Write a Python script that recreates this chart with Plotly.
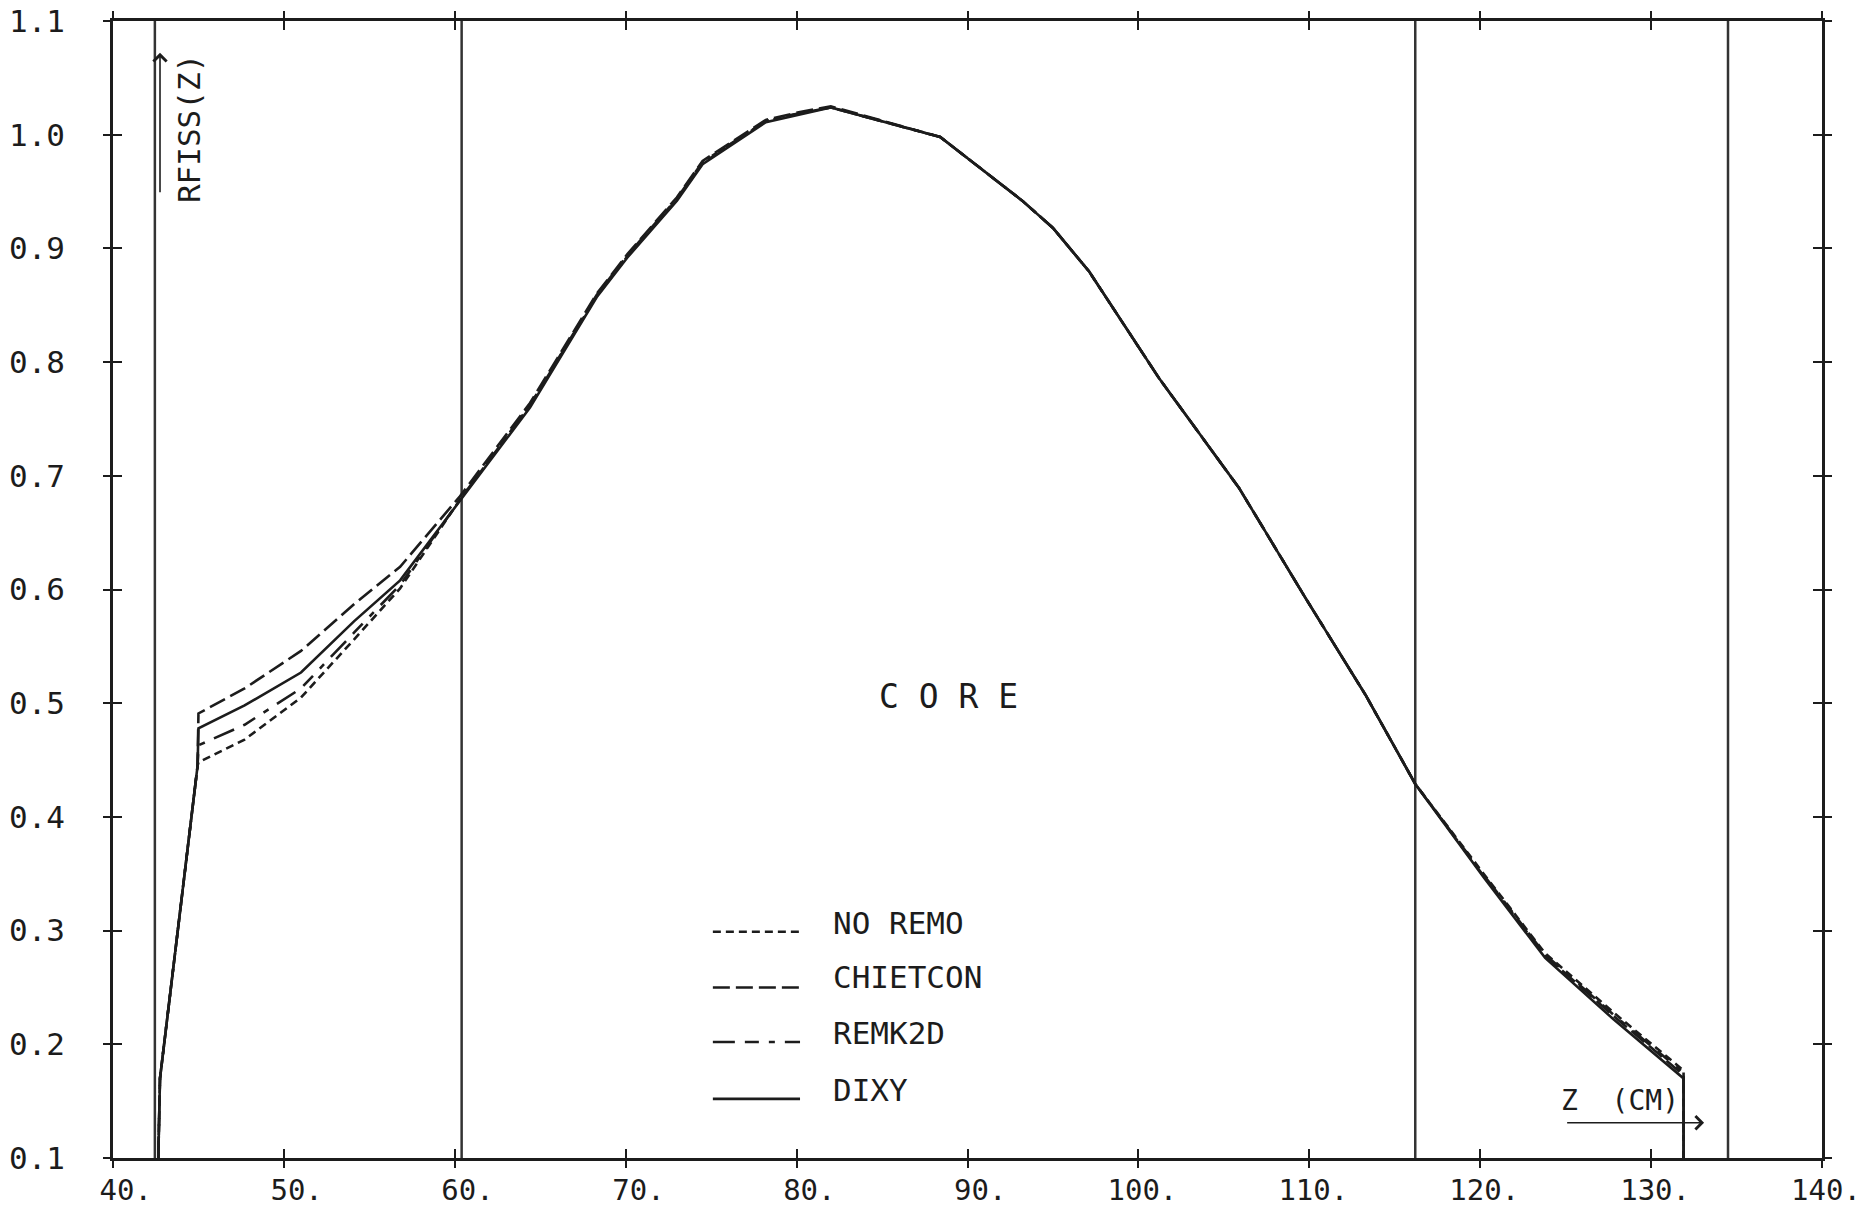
import plotly.graph_objects as go

# ---------------- data ----------------
z = [42.65, 42.75, 44.95, 45.0, 47.7, 51.0, 54.1, 56.8, 60.3, 64.4, 68.3, 70.1, 73.0, 74.5,
     78.2, 80.2, 82.0, 88.4, 93.2, 95.0, 97.1, 101.2, 105.9, 109.8, 113.3, 116.2, 120.2,
     123.8, 127.8, 131.9, 131.9]

no_remo = [0.10, 0.17, 0.445, 0.448, 0.468, 0.505, 0.556, 0.601, 0.679, 0.762, 0.858, 0.893,
           0.943, 0.975, 1.012, 1.019, 1.024, 0.998, 0.942, 0.918, 0.880, 0.786, 0.689, 0.592,
           0.507, 0.429, 0.350, 0.280, 0.228, 0.177, 0.10]
chietcon = [0.10, 0.17, 0.445, 0.491, 0.513, 0.546, 0.587, 0.620, 0.682, 0.764, 0.860, 0.895,
            0.945, 0.977, 1.013, 1.020, 1.025, 0.998, 0.942, 0.918, 0.880, 0.786, 0.689, 0.592,
            0.507, 0.429, 0.348, 0.278, 0.225, 0.173, 0.10]
remk2d = [0.10, 0.17, 0.445, 0.463, 0.481, 0.513, 0.562, 0.604, 0.679, 0.762, 0.859, 0.894,
          0.944, 0.976, 1.012, 1.019, 1.024, 0.998, 0.942, 0.918, 0.880, 0.786, 0.689, 0.592,
          0.507, 0.429, 0.349, 0.279, 0.226, 0.175, 0.10]
dixy = [0.10, 0.17, 0.445, 0.478, 0.498, 0.527, 0.572, 0.608, 0.678, 0.760, 0.857, 0.892,
        0.942, 0.974, 1.011, 1.018, 1.024, 0.998, 0.942, 0.918, 0.880, 0.786, 0.689, 0.592,
        0.507, 0.429, 0.347, 0.276, 0.222, 0.170, 0.10]

series_names = ["NO REMO", "CHIETCON", "REMK2D", "DIXY"]
series_values = [no_remo, chietcon, remk2d, dixy]
series_dash = ["8px,5px", "17px,6px", "22px,10px,14px,10px,6px,10px", "solid"]

boundary_z = [42.45, 60.4, 116.2, 134.5]

x_tickvals = [40, 50, 60, 70, 80, 90, 100, 110, 120, 130, 140]
x_ticktext = ["40.", "50.", "60.", "70.", "80.", "90.", "100.", "110.", "120.", "130.", "140."]
y_tickvals = [0.1, 0.2, 0.3, 0.4, 0.5, 0.6, 0.7, 0.8, 0.9, 1.0, 1.1]
y_ticktext = ["0.1", "0.2", "0.3", "0.4", "0.5", "0.6", "0.7", "0.8", "0.9", "1.0", "1.1"]

# ---------------- style ----------------
INK = "#1c1c1c"
FONT = "DejaVu Sans Mono"
FS = 31

fig = go.Figure()

# region boundaries
bx, by = [], []
for b in boundary_z:
    bx += [b, b, None]
    by += [0.1, 1.1, None]
fig.add_trace(go.Scatter(x=bx, y=by, mode="lines", line=dict(color="#333333", width=2.5),
                         showlegend=False, hoverinfo="skip"))

for name, vals, dash in zip(series_names, series_values, series_dash):
    fig.add_trace(go.Scatter(x=z, y=vals, mode="lines", name=name,
                             line=dict(color=INK, width=2.6, dash=dash),
                             showlegend=False))

# overlay axes carrying the outside half of the crossing tick marks
fig.add_trace(go.Scatter(x=[40], y=[0.1], xaxis="x2", yaxis="y2", mode="markers",
                         marker=dict(opacity=0), showlegend=False, hoverinfo="skip"))

# manual legend (line samples + labels)
leg_x0, leg_x1, leg_tx = 75.1, 80.2, 82.0
leg_line_y = [0.299, 0.250, 0.202, 0.152]
leg_text_y = [0.307, 0.259, 0.210, 0.160]
shapes = []
annotations = []
for name, dash, ly, ty in zip(series_names, series_dash, leg_line_y, leg_text_y):
    shapes.append(dict(type="line", xref="x", yref="y", x0=leg_x0, x1=leg_x1, y0=ly, y1=ly,
                       line=dict(color=INK, width=2.6, dash=dash)))
    annotations.append(dict(x=leg_tx, y=ty, xref="x", yref="y", text=name, showarrow=False,
                            xanchor="left", yanchor="middle",
                            font=dict(family=FONT, size=FS, color=INK)))

# axis titles with arrows
annotations.append(dict(x=44.45, y=1.005, xref="x", yref="y", text="RFISS(Z)", textangle=-90,
                        showarrow=False, font=dict(family=FONT, size=FS, color=INK)))
annotations.append(dict(x=42.75, y=1.072, ax=42.75, ay=0.948, xref="x", yref="y",
                        axref="x", ayref="y", text="", showarrow=True, arrowhead=4,
                        arrowsize=1.6, arrowwidth=1.6, arrowcolor=INK))
annotations.append(dict(x=128.2, y=0.151, xref="x", yref="y", text="Z\u00a0\u00a0(CM)",
                        showarrow=False, font=dict(family=FONT, size=28, color=INK)))
annotations.append(dict(x=133.1, y=0.131, ax=125.0, ay=0.131, xref="x", yref="y",
                        axref="x", ayref="y", text="", showarrow=True, arrowhead=4,
                        arrowsize=1.6, arrowwidth=1.6, arrowcolor=INK))
annotations.append(dict(x=88.9, y=0.506, xref="x", yref="y", text="C O R E",
                        showarrow=False, font=dict(family=FONT, size=33, color=INK)))

# plotter labels are right-aligned on the decimal point: pad to equal length
x_text_padded = [t.rjust(4, "\u00a0") for t in x_ticktext]

axis_common = dict(showgrid=False, zeroline=False, linecolor=INK, linewidth=2.5,
                   tickcolor=INK, tickwidth=2, ticklen=9, automargin=False)

fig.update_layout(
    width=1870, height=1208,
    margin=dict(l=113, r=48, t=21, b=50),
    paper_bgcolor="white", plot_bgcolor="white",
    font=dict(family=FONT, size=FS, color=INK),
    xaxis=dict(range=[40, 140], tickvals=x_tickvals, ticktext=x_text_padded,
               ticks="inside", showline=True, mirror="allticks",
               tickfont=dict(family=FONT, size=29, color=INK),
               ticklabelshift=4, ticklabelstandoff=4, ticklabeloverflow="allow",
               **axis_common),
    yaxis=dict(range=[0.1, 1.1], tickvals=y_tickvals, ticktext=y_ticktext,
               ticks="inside", showline=True, mirror="allticks",
               ticklabelstandoff=39, ticklabeloverflow="allow", **axis_common),
    xaxis2=dict(range=[40, 140], tickvals=x_tickvals, overlaying="x", anchor="y2",
                ticks="outside", showline=False, mirror="allticks", showticklabels=False,
                **axis_common),
    yaxis2=dict(range=[0.1, 1.1], tickvals=y_tickvals, overlaying="y", anchor="x2",
                ticks="outside", showline=False, mirror="allticks", showticklabels=False,
                **axis_common),
    shapes=shapes,
    annotations=annotations,
    showlegend=False,
)

fig.write_html(
    "out.html",
    config={"displayModeBar": False},
    post_script="document.body.style.margin='0';document.body.style.overflow='hidden';",
)
